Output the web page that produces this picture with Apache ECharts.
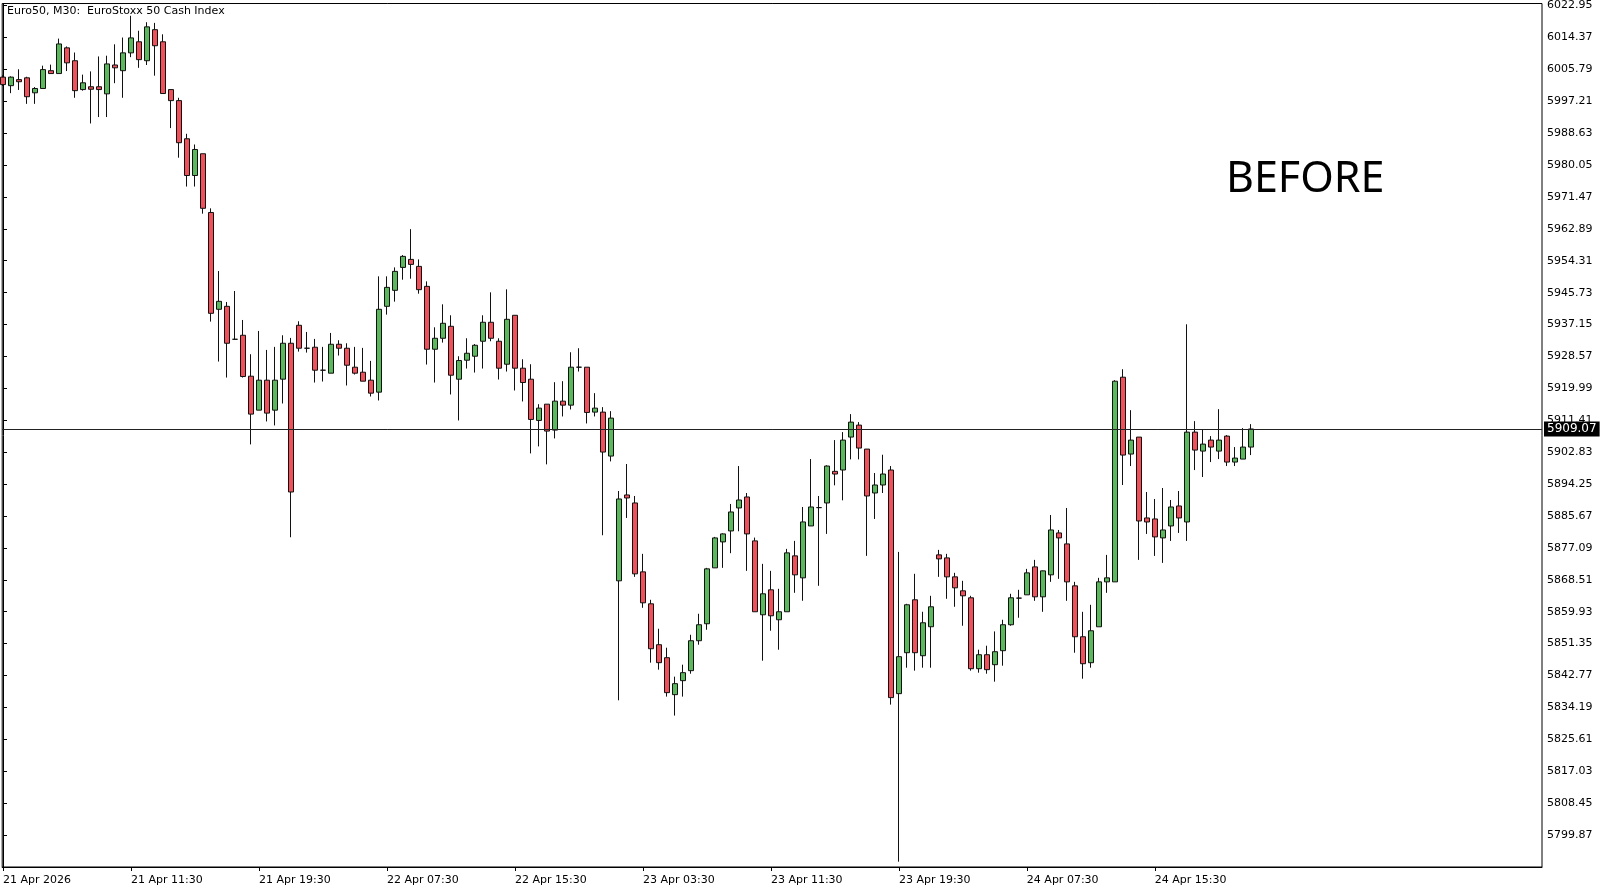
<!DOCTYPE html>
<html><head><meta charset="utf-8">
<script src="https://cdn.jsdelivr.net/npm/echarts@6/dist/echarts.min.js"></script>
<style>html,body{margin:0;padding:0;background:#fff}#c{width:1612px;height:891px}</style>
</head><body><div id="c"></div>
<script>
const chartTitle = 'Euro50, M30:  EuroStoxx 50 Cash Index';
const overlayText = 'BEFORE';
const lastPrice = 5909.07;

const opens = [
6003.69,6001.39,6003.02,6003.50,5999.47,6000.63,6005.42,6004.65,6011.56,6008.10,
6000.34,6001.10,6001.10,5999.19,6006.95,6005.42,6010.21,6013.19,6008.10,6016.45,
6013.19,6000.34,5997.37,5987.11,5977.23,5983.08,5967.29,5941.25,5942.05,5933.19,
5934.27,5923.26,5914.13,5922.19,5914.13,5922.46,5932.12,5936.95,5930.78,5931.05,
5924.87,5924.07,5931.85,5930.78,5925.68,5924.33,5922.19,5918.97,5942.05,5946.35,
5952.52,5954.67,5952.79,5947.42,5930.51,5933.46,5936.68,5922.45,5927.56,5928.63,
5932.66,5937.76,5932.66,5926.48,5939.64,5925.41,5922.45,5911.36,5915.74,5908.76,
5916.55,5915.48,5925.68,5925.68,5913.60,5913.60,5901.78,5868.23,5891.32,5889.17,
5870.64,5862.05,5851.05,5847.56,5837.62,5841.38,5844.07,5852.12,5856.69,5871.72,
5878.70,5881.65,5887.83,5890.78,5878.97,5859.10,5865.81,5857.76,5859.91,5874.94,
5869.03,5882.99,5887.92,5889.17,5897.67,5898.03,5906.89,5910.11,5903.66,5891.85,
5894.00,5898.03,5837.89,5848.90,5863.13,5848.09,5855.88,5875.21,5874.40,5869.30,
5865.54,5863.67,5844.60,5848.36,5845.68,5849.44,5856.42,5863.58,5864.46,5871.98,
5863.93,5869.84,5881.11,5878.16,5866.88,5853.19,5846.21,5855.87,5867.95,5867.95,
5922.99,5902.32,5906.88,5885.14,5884.87,5879.77,5882.99,5888.36,5884.06,5908.22,
5903.12,5906.08,5903.12,5907.15,5900.17,5900.97,5904.20
];
const closes = [
6001.68,6003.69,6002.45,5998.42,6000.63,6005.71,6004.65,6012.61,6007.53,6000.05,
6002.16,6000.43,6000.34,6007.24,6006.19,6010.21,6014.24,6008.39,6017.21,6012.13,
5999.28,5997.37,5986.05,5977.23,5984.23,5968.41,5940.17,5943.39,5932.12,5933.19,
5923.17,5913.06,5922.19,5913.33,5922.19,5932.12,5892.12,5930.78,5930.78,5924.87,
5924.87,5931.85,5930.78,5926.21,5924.07,5921.92,5918.70,5941.25,5947.15,5951.45,
5955.48,5953.33,5946.53,5930.51,5933.46,5937.49,5923.53,5927.47,5929.43,5931.58,
5937.76,5933.46,5925.41,5938.56,5925.41,5921.56,5911.63,5914.67,5908.50,5916.55,
5915.48,5925.68,5925.68,5913.51,5914.67,5902.86,5911.99,5890.24,5890.51,5870.11,
5862.32,5849.97,5846.22,5838.16,5840.58,5843.53,5852.12,5856.42,5871.45,5879.77,
5880.85,5886.75,5889.97,5880.85,5859.91,5864.74,5858.83,5859.91,5875.75,5869.84,
5884.07,5888.09,5887.92,5899.10,5896.95,5906.08,5910.91,5903.93,5891.05,5894.00,
5896.95,5836.82,5847.83,5861.79,5848.90,5856.95,5861.25,5874.13,5869.30,5866.35,
5864.20,5844.60,5848.36,5844.34,5849.17,5856.42,5863.67,5863.58,5870.37,5863.93,
5870.91,5881.91,5879.77,5867.95,5853.19,5845.94,5854.80,5867.95,5869.03,5921.91,
5902.05,5906.08,5884.33,5884.06,5880.04,5881.91,5888.09,5885.14,5908.22,5903.39,
5905.00,5904.20,5906.08,5900.17,5901.24,5904.20,5909.07
];
const highs = [
6004.20,6003.90,6005.80,6003.79,6001.01,6006.76,6007.05,6014.05,6011.94,6010.31,
6004.36,6005.23,6009.25,6009.45,6012.51,6014.34,6020.18,6016.16,6018.46,6018.27,
6015.20,6000.34,5998.13,5988.45,5985.57,5983.08,5968.40,5951.54,5943.22,5946.17,
5938.38,5929.17,5935.43,5930.33,5931.14,5934.27,5933.55,5938.03,5935.16,5933.28,
5931.14,5934.89,5932.93,5932.12,5931.14,5930.87,5927.38,5950.11,5950.11,5952.52,
5955.83,5962.81,5954.67,5948.76,5936.41,5942.59,5939.64,5928.63,5933.46,5931.90,
5939.64,5945.81,5933.46,5946.62,5939.64,5927.82,5926.48,5915.74,5915.74,5921.65,
5921.92,5929.70,5930.78,5925.68,5918.70,5914.94,5913.86,5892.39,5899.64,5891.05,
5875.48,5863.13,5855.34,5850.24,5842.46,5845.68,5853.73,5859.37,5871.72,5880.04,
5881.02,5888.90,5899.10,5891.85,5879.86,5872.79,5870.91,5866.08,5876.82,5878.97,
5888.09,5900.98,5891.05,5899.30,5906.08,5908.23,5913.06,5910.91,5903.66,5897.22,
5902.14,5899.10,5876.01,5862.05,5870.11,5859.91,5864.20,5876.55,5875.48,5870.38,
5868.23,5864.20,5849.71,5850.78,5854.63,5857.76,5864.74,5865.81,5871.44,5873.86,
5871.00,5885.94,5881.91,5887.82,5867.95,5859.90,5861.78,5869.03,5875.20,5922.18,
5925.14,5914.13,5906.88,5892.12,5890.24,5893.19,5889.97,5892.38,5937.22,5911.18,
5909.03,5907.15,5914.40,5907.42,5904.20,5909.30,5910.37
];
const lows = [
6001.30,5999.38,6000.24,5996.50,5996.50,6000.63,6004.65,6004.65,6005.32,5998.13,
6000.05,5991.23,5992.95,5992.95,6002.06,5998.13,6009.06,6006.19,6006.95,6004.08,
5999.28,5989.98,5982.02,5974.26,5974.26,5966.97,5937.94,5927.20,5922.90,5933.19,
5922.90,5904.92,5914.13,5911.09,5910.02,5915.92,5879.95,5929.88,5929.61,5921.56,
5921.83,5924.07,5928.81,5920.76,5923.71,5921.92,5917.80,5916.73,5939.82,5943.31,
5949.21,5949.48,5945.45,5926.39,5921.56,5932.30,5918.34,5911.36,5925.32,5924.24,
5925.32,5932.66,5922.37,5924.51,5919.41,5916.46,5902.50,5904.38,5899.55,5906.53,
5912.43,5914.31,5924.51,5910.55,5912.43,5880.49,5900.35,5836.10,5885.14,5869.30,
5860.98,5846.22,5844.34,5837.09,5831.99,5837.09,5843.26,5851.05,5855.07,5871.72,
5871.72,5875.66,5881.56,5870.91,5859.91,5846.75,5854.81,5849.71,5859.91,5865.01,
5862.86,5882.99,5866.89,5880.85,5893.91,5889.88,5900.89,5900.89,5874.94,5884.87,
5891.85,5834.94,5792.70,5844.87,5844.07,5844.87,5844.87,5869.30,5863.40,5861.25,
5856.15,5844.07,5843.53,5843.26,5841.11,5845.41,5856.15,5858.30,5864.46,5862.85,
5859.90,5867.95,5868.76,5862.85,5848.89,5841.91,5844.87,5855.87,5865.00,5867.95,
5893.99,5899.10,5873.86,5880.84,5874.93,5873.05,5878.96,5881.11,5878.96,5898.02,
5896.14,5900.17,5900.97,5899.10,5899.10,5900.97,5902.05
];

const xTickIndex = [0,16,32,48,64,80,96,112,128,144];
const xTickLabels = ['21 Apr 2026','21 Apr 11:30','21 Apr 19:30','22 Apr 07:30','22 Apr 15:30',
  '23 Apr 03:30','23 Apr 11:30','23 Apr 19:30','24 Apr 07:30','24 Apr 15:30'];
const yTicks = [5799.87,5808.45,5817.03,5825.61,5834.19,5842.77,5851.35,5859.93,5868.51,
  5877.09,5885.67,5894.25,5902.83,5911.41,5919.99,5928.57,5937.15,5945.73,5954.31,5962.89,
  5971.47,5980.05,5988.63,5997.21,6005.79,6014.37,6022.95];

const candles = opens.map((o, i) => [i, o, closes[i], lows[i], highs[i]]);
const xLabelMap = {};
xTickIndex.forEach((k, j) => { xLabelMap[k] = xTickLabels[j]; });

const FONT = 'DejaVu Sans';
const chart = echarts.init(document.getElementById('c'), null, {renderer: 'canvas'});
chart.setOption({
  animation: false,
  backgroundColor: '#fff',
  grid: {left: 2, top: 2, right: 70, bottom: 24, show: true, borderColor: '#000', borderWidth: 1},
  xAxis: {
    type: 'value', min: -0.1, max: 192.4,
    axisLine: {show: true, lineStyle: {color: '#000', width: 1}},
    axisTick: {show: true, customValues: xTickIndex, length: 4, lineStyle: {color: '#000'}},
    axisLabel: {customValues: xTickIndex, formatter: v => xLabelMap[v] || '', align: 'left',
      margin: 8, color: '#000', fontSize: 11, fontFamily: FONT},
    splitLine: {show: false}
  },
  yAxis: {
    type: 'value', position: 'right', min: 5791.27, max: 6023.48,
    axisLine: {show: true, lineStyle: {color: '#000', width: 1}},
    axisTick: {show: true, customValues: yTicks, length: 4, lineStyle: {color: '#000'}},
    axisLabel: {customValues: yTicks, formatter: v => Number(v).toFixed(2), margin: 5,
      color: '#000', fontSize: 11, fontFamily: FONT},
    splitLine: {show: false}
  },
  graphic: [
    {type: 'text', x: 7, y: 11, z: 100, style: {text: chartTitle, font: '11px "DejaVu Sans"', fill: '#000', align: 'left', verticalAlign: 'middle'}},
    {type: 'text', x: 1226, y: 180, z: 100, style: {text: overlayText, font: '43px "Noto Sans"', fill: '#000', align: 'left', verticalAlign: 'middle'}}
  ],
  series: [{
    type: 'candlestick',
    data: candles,
    encode: {x: 0, y: [1, 2, 3, 4]},
    barWidth: 5,
    itemStyle: {color: '#5cb85c', color0: '#f0505a', borderColor: '#111', borderColor0: '#111', borderColorDoji: '#111', borderWidth: 1},
    markLine: {
      symbol: 'none', silent: true, animation: false,
      lineStyle: {color: '#222', width: 1, type: 'solid'},
      label: {position: 'end', distance: 2, formatter: lastPrice.toFixed(2), backgroundColor: '#000',
        color: '#fff', padding: [2, 3, 1, 3], fontSize: 12, fontFamily: FONT},
      data: [{yAxis: lastPrice}]
    }
  }]
});
</script></body></html>
